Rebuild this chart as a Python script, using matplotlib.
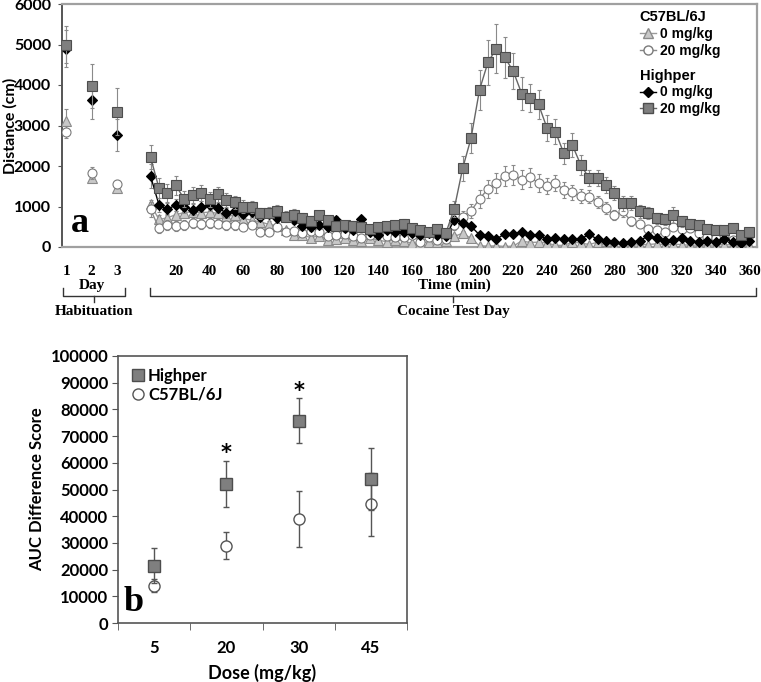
import matplotlib
matplotlib.use('Agg')
import matplotlib.pyplot as plt
import matplotlib.transforms as mtransforms
from matplotlib.lines import Line2D
import numpy as np

# ---- panel a: habituation days ----
days = [1, 2, 3]
day_pos = [-45, -30, -15]          # where the day points sit on the shared x axis
hab_hp20 = [5000, 3980, 3340]
hab_hp20_err = [450, 550, 580]
hab_hp0 = [4900, 3620, 2770]
hab_hp0_err = [450, 450, 400]
hab_c0 = [3100, 1700, 1450]
hab_c0_err = [300, 100, 100]
hab_c20 = [2830, 1830, 1550]
hab_c20_err = [150, 150, 100]

# ---- panel a: cocaine test day, 5 min bins ----
time_min = list(range(5, 365, 5))
hp20 = [2220, 1450, 1330, 1520, 1180, 1280, 1330, 1180, 1300, 1170, 1100, 1000, 980, 830, 850, 900, 750, 800,
        720, 650, 780, 660, 510, 540, 520, 490, 440, 490, 520, 540, 580, 470, 420, 360, 450, 340,
        940, 1940, 2690, 3880, 4560, 4900, 4680, 4340, 3790, 3680, 3520, 2940, 2850, 2310, 2520, 2030, 1700, 1710,
        1530, 1330, 1080, 1080, 880, 830, 710, 680, 790, 630, 570, 540, 440, 410, 420, 460, 300, 380]
hp20_err = [300, 250, 230, 230, 200, 200, 200, 180, 180, 170, 160, 150, 150, 140, 140, 140, 130, 130,
            120, 120, 120, 110, 110, 110, 110, 100, 100, 100, 100, 100, 100, 100, 100, 100, 100, 100,
            200, 300, 380, 500, 550, 600, 500, 450, 400, 350, 350, 330, 300, 250, 300, 250, 200, 200,
            200, 180, 180, 170, 160, 150, 140, 130, 200, 130, 120, 120, 100, 100, 100, 100, 80, 80]
hp0 = [1750, 1040, 930, 1040, 990, 920, 1000, 1040, 960, 840, 900, 820, 870, 750, 810, 710, 770, 670,
       520, 490, 540, 500, 670, 460, 420, 680, 380, 300, 420, 380, 380, 340, 300, 340, 300, 260,
       670, 600, 510, 300, 270, 190, 330, 330, 370, 300, 300, 190, 210, 190, 190, 200, 310, 190,
       150, 120, 100, 130, 150, 280, 220, 150, 180, 230, 150, 130, 150, 120, 200, 130, 100, 150]
hp0_err = [300, 180, 150, 150, 150, 140, 140, 140, 130, 120, 120, 110, 110, 100, 100, 100, 100, 90,
           90, 90, 90, 90, 90, 80, 80, 80, 80, 70, 70, 70, 70, 70, 60, 60, 60, 60,
           90, 90, 80, 60, 60, 50, 60, 60, 60, 60, 60, 50, 50, 50, 50, 50, 60, 50,
           50, 40, 40, 40, 40, 60, 50, 40, 40, 50, 40, 40, 40, 40, 50, 40, 40, 40]
c20 = [930, 460, 540, 520, 540, 590, 570, 600, 570, 540, 540, 490, 540, 360, 380, 490, 380, 400,
       340, 400, 380, 270, 300, 320, 270, 210, 300, 380, 270, 240, 240, 300, 130, 240, 170, 190,
       540, 750, 890, 1190, 1430, 1580, 1760, 1780, 1660, 1720, 1580, 1500, 1580, 1410, 1350, 1250, 1240, 1110,
       960, 790, 880, 630, 570, 440, 420, 380, 500, 440, 460, 340, 240, 210, 300, 170, 130, 300]
c20_err = [180, 120, 120, 120, 120, 120, 120, 120, 110, 110, 110, 100, 100, 90, 90, 90, 90, 90,
           80, 80, 80, 70, 70, 70, 70, 60, 60, 60, 60, 60, 60, 60, 50, 50, 50, 50,
           120, 150, 180, 220, 230, 240, 250, 250, 240, 230, 220, 200, 200, 190, 180, 170, 160, 150,
           140, 130, 130, 110, 100, 90, 90, 80, 90, 80, 80, 70, 60, 60, 60, 50, 50, 60]
c0 = [1050, 680, 720, 800, 850, 870, 850, 860, 830, 760, 780, 700, 660, 620, 560, 520, 420, 300,
      300, 230, 280, 170, 200, 220, 180, 150, 220, 170, 130, 180, 150, 90, 100, 130, 120, 160,
      260, 340, 210, 30, 20, 30, 10, 20, 150, 110, 120, 100, 40, 40, 120, 100, 60, 120,
      150, 50, 70, 40, 60, 60, 80, 50, 70, 60, 40, 50, 40, 50, 60, 50, 40, 60]
c0_err = [120, 100, 100, 100, 100, 100, 100, 90, 90, 90, 90, 80, 80, 80, 70, 70, 60, 60,
          60, 50, 50, 50, 50, 50, 50, 40, 40, 40, 40, 40, 40, 40, 40, 40, 40, 40,
          60, 60, 50, 30, 30, 30, 30, 30, 40, 40, 40, 40, 30, 30, 40, 40, 30, 40,
          40, 30, 30, 30, 30, 30, 30, 30, 30, 30, 30, 30, 30, 30, 30, 30, 30, 30]
time_ticks = list(range(20, 380, 20))

# ---- panel b: AUC difference scores ----
doses = ['5', '20', '30', '45']
auc_hp = [21500, 52000, 75800, 54000]
auc_hp_err = [6500, 8500, 8300, 11500]
auc_c57 = [14000, 29000, 39000, 44500]
auc_c57_err = [2500, 5000, 10500, 11800]
star_doses = [1, 2]
star_y = [63500, 87000]

SERIF = 'Liberation Serif'
SANS = 'Lato'
ARIAL = 'Liberation Sans'

fig = plt.figure(figsize=(7.61, 6.82), dpi=100)

# ================= panel a =================
ax = fig.add_axes([62 / 761, 1 - 247 / 682, 695 / 761, 243 / 682])

styles = [
    (hab_c0, hab_c0_err, c0, c0_err, dict(marker='^', mfc='#c8c8c8', mec='#8a8a8a', ms=6.5, color='#9a9a9a')),
    (hab_c20, hab_c20_err, c20, c20_err, dict(marker='o', mfc='white', mec='#7a7a7a', ms=6.5, color='#8a8a8a')),
    (hab_hp0, hab_hp0_err, hp0, hp0_err, dict(marker='D', mfc='black', mec='black', ms=5, color='black')),
    (hab_hp20, hab_hp20_err, hp20, hp20_err, dict(marker='s', mfc='#7f7f7f', mec='#4d4d4d', ms=6.5, color='#666666')),
]
for z, (hv, he, tv, te, st) in enumerate(styles):
    ax.errorbar(time_min, tv, yerr=te, fmt='none', ecolor='#8a8a8a', elinewidth=0.8,
                capsize=1.5, capthick=0.8, zorder=2 + z)
    ax.plot(time_min, tv, lw=1.0, zorder=3 + z, mew=0.8, **st)
    ax.errorbar(day_pos, hv, yerr=he, fmt='none', ecolor='#8a8a8a', elinewidth=0.8,
                capsize=1.5, capthick=0.8, zorder=2 + z)
    ax.plot(day_pos, hv, ls='none', zorder=3 + z, mew=0.8, **st)

ax.set_xlim(-47.5, 364.5)
ax.set_ylim(0, 6000)
ax.set_yticks(range(0, 7000, 1000))
ax.set_xticks(day_pos + time_ticks)
ax.set_xticklabels([str(d) for d in days] + [str(t) for t in time_ticks])
ax.tick_params(axis='x', length=0, pad=13)
ax.tick_params(axis='y', length=3, direction='out', color='#555555', pad=5)
for lab in ax.get_xticklabels():
    lab.set_fontfamily(SERIF)
    lab.set_fontweight('bold')
    lab.set_fontsize(11)
for lab in ax.get_yticklabels():
    lab.set_fontfamily(SANS)
    lab.set_fontweight('bold')
    lab.set_fontsize(11.5)
for side in ['top', 'right', 'bottom']:
    ax.spines[side].set_color('#a0a0a0')
    ax.spines[side].set_linewidth(1.6)
ax.spines['left'].set_color('#555555')
ax.spines['left'].set_linewidth(1.4)
ax.set_ylabel('Distance (cm)', fontfamily=SANS, fontweight='bold', fontsize=11.5)
ax.yaxis.set_label_coords(-0.064, 0.5)
ax.text(0.013, 0.03, 'a', transform=ax.transAxes, fontfamily=SERIF, fontweight='bold',
        fontsize=26, va='bottom', ha='left')

# axis group labels and braces below panel a
trans = mtransforms.blended_transform_factory(ax.transData, ax.transAxes)
ax.text(-30, -0.158, 'Day', transform=trans, ha='center', va='center',
        fontfamily=SERIF, fontweight='bold', fontsize=11)
ax.text(185, -0.158, 'Time (min)', transform=trans, ha='center', va='center',
        fontfamily=SERIF, fontweight='bold', fontsize=11)
for x0, x1, label in [(-47, -10, 'Habituation'), (4.5, 364, 'Cocaine Test Day')]:
    xm = (x0 + x1) / 2
    ax.plot([x0, x0, x1, x1], [-0.17, -0.2, -0.2, -0.17], transform=trans,
            color='#333333', lw=1.0, clip_on=False)
    ax.plot([xm, xm], [-0.2, -0.225], transform=trans, color='#333333', lw=1.0, clip_on=False)
    ax.text(xm, -0.266, label, transform=trans, ha='center', va='center',
            fontfamily=SERIF, fontweight='bold', fontsize=11)

# legend in two groups
leg_kw = dict(frameon=False, alignment='left', handlelength=1.2, handletextpad=0.3,
              borderaxespad=0, labelspacing=0.2,
              prop={'family': ARIAL, 'weight': 'bold', 'size': 10},
              title_fontproperties={'family': ARIAL, 'weight': 'bold', 'size': 10.5})
h_c0 = Line2D([], [], **styles[0][4], lw=1.0)
h_c20 = Line2D([], [], **styles[1][4], lw=1.0)
h_hp0 = Line2D([], [], **styles[2][4], lw=1.0)
h_hp20 = Line2D([], [], **styles[3][4], lw=1.0)
leg1 = ax.legend([h_c0, h_c20], ['0 mg/kg', '20 mg/kg'], title='C57BL/6J',
                 loc='upper left', bbox_to_anchor=(0.823, 0.997), **leg_kw)
ax.add_artist(leg1)
ax.legend([h_hp0, h_hp20], ['0 mg/kg', '20 mg/kg'], title='Highper',
          loc='upper left', bbox_to_anchor=(0.823, 0.757), **leg_kw)

# ================= panel b =================
bx = fig.add_axes([118 / 761, 1 - 623 / 682, 289 / 761, 267 / 682])
xpos = np.arange(len(doses))
bx.errorbar(xpos, auc_c57, yerr=auc_c57_err, fmt='o', ms=8, mfc='white', mec='#555555', mew=1.0,
            ecolor='#555555', elinewidth=1.0, capsize=2, capthick=1.0, zorder=3)
bx.errorbar(xpos, auc_hp, yerr=auc_hp_err, fmt='s', ms=8, mfc='#7f7f7f', mec='#4d4d4d', mew=1.0,
            ecolor='#555555', elinewidth=1.0, capsize=2, capthick=1.0, zorder=4)
for d, yy in zip(star_doses, star_y):
    bx.text(xpos[d], yy, '*', ha='center', va='center', fontsize=15, fontweight='bold',
            fontfamily='DejaVu Sans')
bx.set_xlim(-0.5, 3.5)
bx.set_ylim(0, 100000)
bx.set_yticks(range(0, 110000, 10000))
bx.set_xticks(xpos)
bx.set_xticklabels(doses)
bx.set_xticks(np.arange(-0.5, 4, 1), minor=True)
bx.tick_params(axis='x', which='major', length=0, pad=12)
bx.tick_params(axis='x', which='minor', length=5, direction='out', color='#555555')
bx.tick_params(axis='y', length=4, direction='out', color='#555555', pad=3)
for lab in bx.get_xticklabels() + bx.get_yticklabels():
    lab.set_fontfamily(SANS)
    lab.set_fontweight('bold')
    lab.set_fontsize(12)
for side in bx.spines:
    bx.spines[side].set_color('#555555')
    bx.spines[side].set_linewidth(1.2)
bx.set_ylabel('AUC Difference Score', fontfamily=SANS, fontweight='bold', fontsize=12, labelpad=4)
bx.set_xlabel('Dose (mg/kg)', fontfamily=SANS, fontweight='bold', fontsize=13, labelpad=6)
hp_handle = Line2D([], [], ls='none', marker='s', ms=8, mfc='#7f7f7f', mec='#4d4d4d', mew=1.0)
c57_handle = Line2D([], [], ls='none', marker='o', ms=8, mfc='white', mec='#555555', mew=1.0)
bx.legend([hp_handle, c57_handle], ['Highper', 'C57BL/6J'], loc='upper left', frameon=False,
          handletextpad=0.1, handlelength=1.0, borderaxespad=0.3, labelspacing=0.2,
          prop={'family': SANS, 'weight': 'bold', 'size': 12})
bx.text(0.02, 0.015, 'b', transform=bx.transAxes, fontfamily=SERIF, fontweight='bold',
        fontsize=26, va='bottom', ha='left')

fig.savefig('out.png', dpi=100)
